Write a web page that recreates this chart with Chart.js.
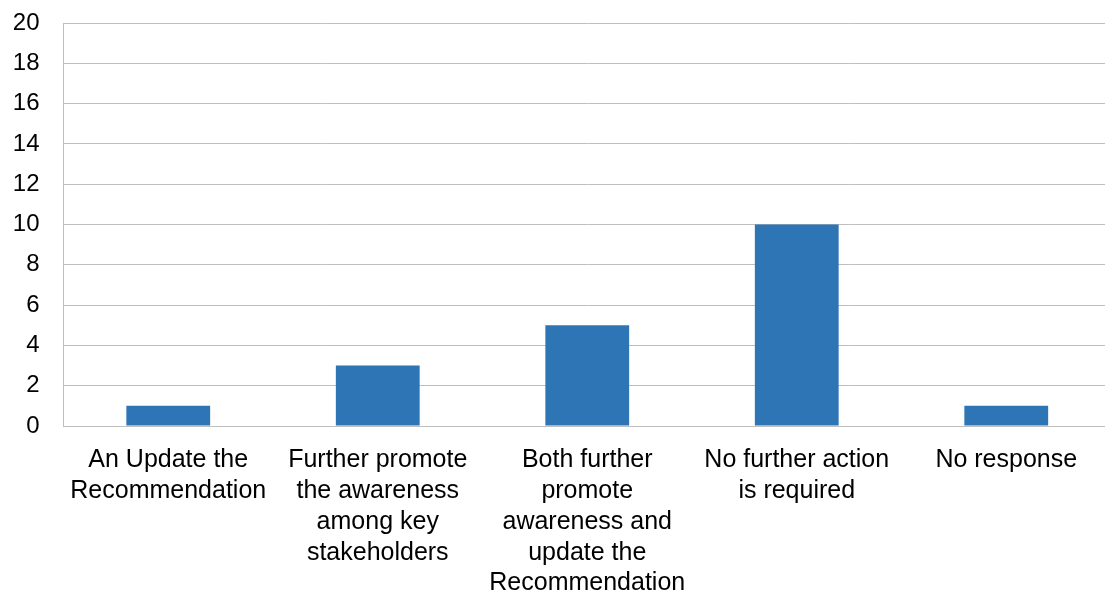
<!DOCTYPE html>
<html>
<head>
<meta charset="utf-8">
<script src="https://cdn.jsdelivr.net/npm/chart.js@4.4.1/dist/chart.umd.min.js"></script>
<style>
  html, body { margin: 0; padding: 0; background: #fff; overflow: hidden; }
  #wrap { width: 1111px; height: 592px; position: relative; }
</style>
</head>
<body>
<div id="wrap"><canvas id="canvas"></canvas></div>
<script>
var categories = [
  ['An Update the', 'Recommendation'],
  ['Further promote', 'the awareness', 'among key', 'stakeholders'],
  ['Both further', 'promote', 'awareness and', 'update the', 'Recommendation'],
  ['No further action', 'is required'],
  ['No response']
];
var responses = [1, 3, 5, 10, 1];
var yTicks = [0, 2, 4, 6, 8, 10, 12, 14, 16, 18, 20];

var gridGray = '#BFBFBF';
var fontFamily = '"Liberation Sans", Arial, sans-serif';

var chart = new Chart(document.getElementById('canvas').getContext('2d'), {
  type: 'bar',
  data: {
    labels: categories,
    datasets: [{
      data: responses,
      backgroundColor: '#2E75B6',
      borderWidth: 0,
      barPercentage: 0.4,
      categoryPercentage: 1.0
    }]
  },
  options: {
    responsive: true,
    maintainAspectRatio: false,
    animation: false,
    layout: { padding: { top: 23, right: 0, bottom: 0, left: 0 } },
    plugins: {
      legend: { display: false },
      tooltip: { enabled: false }
    },
    scales: {
      x: {
        grid: { display: false, drawTicks: false },
        border: { display: true, color: gridGray, width: 1 },
        ticks: {
          color: '#000',
          font: { family: fontFamily, size: 25, lineHeight: 1.23 },
          padding: 19,
          maxRotation: 0,
          autoSkip: false
        },
        afterFit: function (scale) {
          scale.height = 166;
          scale.paddingLeft = 0;
          scale.paddingRight = 0;
        }
      },
      y: {
        min: 0,
        max: 20,
        afterBuildTicks: function (scale) {
          scale.ticks = yTicks.map(function (v) { return { value: v }; });
        },
        grid: { color: gridGray, lineWidth: 1, drawTicks: false },
        border: { display: true, color: gridGray, width: 1 },
        ticks: {
          color: '#000',
          font: { family: fontFamily, size: 24 },
          padding: 24
        },
        afterFit: function (scale) {
          scale.width = 63.5;
          // the top label may overhang the plot area
          scale.paddingTop = 0;
          scale.paddingBottom = 0;
        }
      }
    }
  }
});
</script>
</body>
</html>
